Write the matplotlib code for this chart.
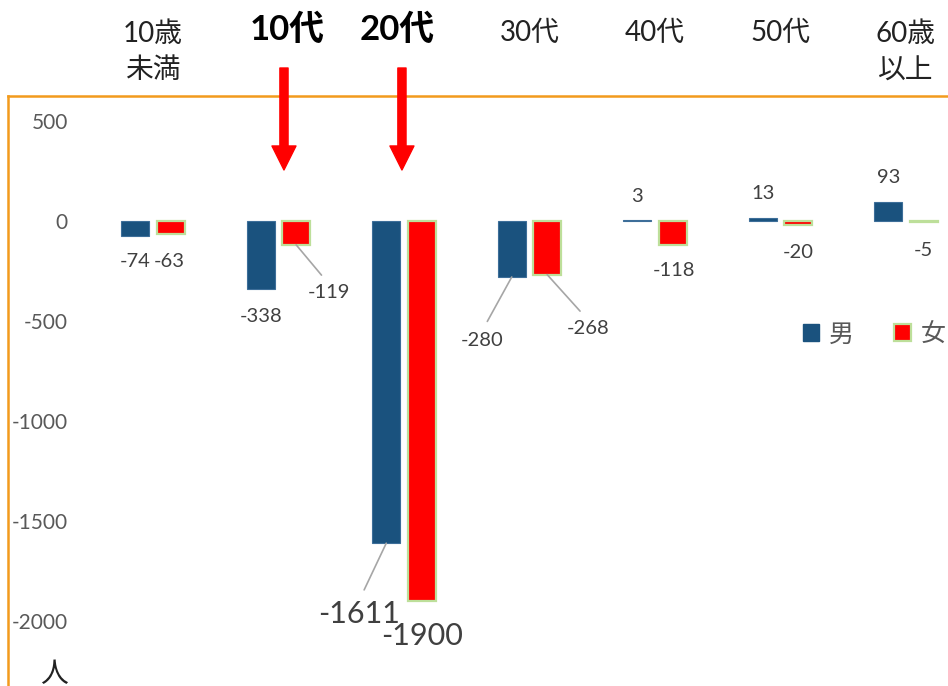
import matplotlib
matplotlib.use('Agg')
import matplotlib.pyplot as plt
import matplotlib.patches as Patch
from matplotlib.transforms import blended_transform_factory

plt.rcParams['font.family'] = ['Lato', 'Noto Sans CJK JP', 'DejaVu Sans']

# data
categories = ['10歳\n未満', '10代', '20代', '30代', '40代', '50代', '60歳\n以上']
male = [-74, -338, -1611, -280, 3, 13, 93]
female = [-63, -119, -1900, -268, -118, -20, -5]
y_ticks = [500, 0, -500, -1000, -1500, -2000]
highlight = ['10代', '20代']

# label offsets (pixels from bar end)
male_off = [(0, -26), (0, -28), (-27, -71), (-30, -63), (0, 24), (0, 25), (0, 25)]
female_off = [(-1, -28), (33, -48), (0, -35), (41, -54), (1, -26), (0, -27), (0, -28)]
cat_dx = [0, 0.07, -0.05, 0, 0, 0, 0]
arrow_dx = [0, 0.044, -0.016, 0, 0, 0, 0]

blue = '#1a527e'
red = '#ff0000'
green = '#bddf9a'
orange = '#f29b1d'
grey = '#595959'

W, H = 948, 686
fig = plt.figure(figsize=(W / 100, H / 100), dpi=100)
ax = fig.add_axes([8 / W, 0, 1 - 8 / W, (H - 96) / H])

xs = list(range(len(categories)))
bw = 0.223
off = 0.141
ax.bar([x - off for x in xs], male, width=bw, color=blue, edgecolor='#3d6e99', linewidth=0.8, label='男')
ax.bar([x + off for x in xs], female, width=bw, color=red, edgecolor=green, linewidth=1.6, label='女')

ax.set_xlim(-1.155, 6.335)
ax.set_ylim(-2325, 625)

for s in ['right', 'bottom']:
    ax.spines[s].set_visible(False)
for s in ['left', 'top']:
    ax.spines[s].set_color(orange)
    ax.spines[s].set_linewidth(1.8)

ax.set_xticks([])
ax.set_yticks(y_ticks)
ax.set_yticklabels([str(t) for t in y_ticks])
ax.tick_params(axis='y', length=0, pad=-43, labelsize=15, labelcolor=grey)
for t in ax.get_yticklabels():
    t.set_horizontalalignment('right')


def put_labels(vals, offs, shift):
    for i, (v, (dx, dy)) in enumerate(zip(vals, offs)):
        big = abs(v) > 1500
        ap = None
        if abs(dx) > 10:
            ap = dict(arrowstyle='-', color='#a6a6a6', lw=1.2, shrinkA=6, shrinkB=0, relpos=(0.5, 1))
        ax.annotate(str(v), xy=(i + shift, v), xytext=(dx, dy), textcoords='offset pixels',
                    ha='center', va='center', fontsize=22 if big else 14.5,
                    color='#404040', arrowprops=ap, annotation_clip=False)


put_labels(male, male_off, -off)
put_labels(female, female_off, off)

# category names above the frame
tr = blended_transform_factory(ax.transData, fig.transFigure)
for i, c in enumerate(categories):
    if c in highlight:
        ax.text(i + cat_dx[i], 1 - 30 / H, c, transform=tr, ha='center', va='center',
                fontsize=25, fontweight='bold', color='black', clip_on=False)
        ax.annotate('', xy=(i + arrow_dx[i], 1 - 170 / H), xytext=(i + arrow_dx[i], 1 - 68 / H),
                    xycoords=tr, textcoords=tr,
                    arrowprops=dict(arrowstyle='simple,head_length=1,head_width=1,tail_width=0.34',
                                    color=red, shrinkA=0, shrinkB=0, mutation_scale=17.3))
    else:
        ax.text(i + cat_dx[i], 1 - (52 if '\n' in c else 33) / H, c, transform=tr, ha='center',
                va='center', fontsize=20, color='#222222', linespacing=1.5, clip_on=False)

fig.text(54 / W, 1 - 674 / H, '人', ha='center', va='center', fontsize=20, color='#222222')

handles = [Patch.Patch(facecolor=blue, edgecolor=blue, label='男'),
           Patch.Patch(facecolor=red, edgecolor=green, linewidth=1.6, label='女')]
leg = fig.legend(handles=handles, loc='center left', bbox_to_anchor=(803 / W, 1 - 334 / H),
                 ncol=2, frameon=False, fontsize=18, handlelength=0.65, handleheight=0.65,
                 handletextpad=0.4, columnspacing=1.6, borderpad=0, borderaxespad=0)
for t in leg.get_texts():
    t.set_color(grey)

fig.savefig('out.png', dpi=100)
